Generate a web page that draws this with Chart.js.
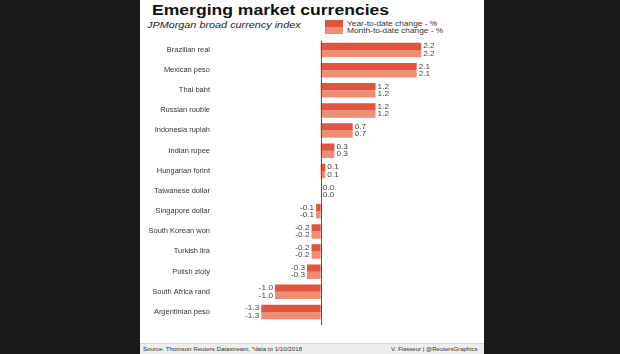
<!DOCTYPE html>
<html>
<head>
<meta charset="utf-8">
<script src="https://cdn.jsdelivr.net/npm/chart.js@4"></script>
<style>
  body { margin: 0; width: 620px; height: 354px; background: #1a1917; overflow: hidden; position: relative; font-family: "Liberation Sans", Arial, sans-serif; }
  #panel { position: absolute; left: 140px; top: 0; width: 344px; height: 354px; background: #fff; }
  #foot { position: absolute; left: 140px; top: 343px; width: 344px; height: 11px; background: #eeeeee; border-top: 1px solid #d8d8d8; }
  .txt { position: absolute; white-space: nowrap; line-height: 1; display: inline-block; color: #222; }
  .sw { position: absolute; width: 18px; height: 6.5px; }
  canvas { position: absolute; left: 0; top: 0; }
</style>
</head>
<body>
<div id="panel"></div>
<div id="foot"></div>

<div class="txt" data-w="237" style="left:152px; top:3px; font-size:14px; font-weight:bold; color:#111;">Emerging market currencies</div>
<div class="txt" data-w="153" style="left:147px; top:21px; font-size:8.5px; font-style:italic;">JPMorgan broad currency index</div>

<div class="sw" style="left:325px; top:20px; background:#e0553d;"></div>
<div class="sw" style="left:325px; top:27px; background:#ef8e73;"></div>
<div class="txt" data-w="90" style="left:347px; top:20.5px; font-size:6.5px; color:#333;">Year-to-date change - %</div>
<div class="txt" data-w="96" style="left:347px; top:27.5px; font-size:6.5px; color:#333;">Month-to-date change - %</div>

<div class="txt" data-w="159" style="left:143px; top:346.5px; font-size:5.5px; color:#333;">Source: Thomson Reuters Datastream, *data to 1/10/2018</div>
<div class="txt" data-w="87" data-r="478" style="top:346.5px; font-size:5.5px; color:#333;">V. Flasseur | @ReutersGraphics</div>

<canvas id="myChart" width="620" height="354"></canvas>

<script>
// data
const currencies = ['Brazilian real', 'Mexican peso', 'Thai baht', 'Russian rouble', 'Indonesia rupiah', 'Indian rupee', 'Hungarian forint', 'Taiwanese dollar', 'Singapore dollar', 'South Korean won', 'Turkish lira', 'Polish zloty', 'South Africa rand', 'Argentinian peso'];
const yearToDate = [2.2, 2.1, 1.2, 1.2, 0.7, 0.3, 0.1, 0.0, -0.1, -0.2, -0.2, -0.3, -1.0, -1.3];
const monthToDate = [2.2, 2.1, 1.2, 1.2, 0.7, 0.3, 0.1, 0.0, -0.1, -0.2, -0.2, -0.3, -1.0, -1.3];
const seriesNames = ['Year-to-date change - %', 'Month-to-date change - %'];

// the original graphic is stretched sideways, so squeeze html text to its width
document.querySelectorAll('.txt').forEach(function (el) {
    const w = el.offsetWidth;
    const target = parseFloat(el.dataset.w);
    const sx = target / w;
    if (el.dataset.r) {
        el.style.left = (parseFloat(el.dataset.r) - w) + 'px';
        el.style.transformOrigin = 'right top';
    } else {
        el.style.transformOrigin = 'left top';
    }
    el.style.transform = 'scaleX(' + sx + ')';
});

// stretched text on the canvas
function drawText(ctx, text, x, y, size, align, sx, color) {
    ctx.save();
    ctx.translate(x, y);
    ctx.scale(sx, 1);
    ctx.font = size + 'px "Liberation Sans", Arial, sans-serif';
    ctx.fillStyle = color;
    ctx.textAlign = align;
    ctx.textBaseline = 'middle';
    ctx.fillText(text, 0, 0);
    ctx.restore();
}

// category names, zero line and value labels
const annotate = {
    id: 'annotate',
    afterDatasetsDraw(chart) {
        const ctx = chart.ctx;
        const xs = chart.scales.x;
        const ys = chart.scales.y;
        const zero = Math.round(xs.getPixelForValue(0)) + 0.5;

        currencies.forEach(function (name, i) {
            drawText(ctx, name, 210, ys.getPixelForValue(i), 6.5, 'right', 1.15, '#333');
        });

        chart.data.datasets.forEach(function (ds, d) {
            const meta = chart.getDatasetMeta(d);
            meta.data.forEach(function (bar, i) {
                const v = ds.data[i];
                if (v >= 0) {
                    drawText(ctx, v.toFixed(1), bar.x + 2, bar.y, 7.5, 'left', 1.1, '#444');
                } else {
                    drawText(ctx, v.toFixed(1), bar.x - 2, bar.y, 7.5, 'right', 1.1, '#444');
                }
            });
        });

        ctx.save();
        ctx.strokeStyle = '#555';
        ctx.lineWidth = 1;
        ctx.beginPath();
        ctx.moveTo(zero, 41);
        ctx.lineTo(zero, 325);
        ctx.stroke();
        ctx.restore();
    }
};

const chart = new Chart(document.getElementById('myChart'), {
    type: 'bar',
    data: {
        labels: currencies,
        datasets: [
            {
                label: seriesNames[0],
                data: yearToDate,
                backgroundColor: '#e0553d',
            },
            {
                label: seriesNames[1],
                data: monthToDate,
                backgroundColor: '#ef8e73',
            },
        ]
    },
    options: {
        indexAxis: 'y',
        responsive: false,
        animation: false,
        layout: {
            padding: { left: 229.3, right: 162.2, top: 39.9, bottom: 31.9 }
        },
        datasets: {
            bar: { categoryPercentage: 0.72, barPercentage: 1.0 }
        },
        scales: {
            x: { min: -2, max: 3, display: false },
            y: { display: false }
        },
        plugins: {
            legend: { display: false },
            tooltip: { enabled: false }
        }
    },
    plugins: [annotate]
});
</script>
</body>
</html>
